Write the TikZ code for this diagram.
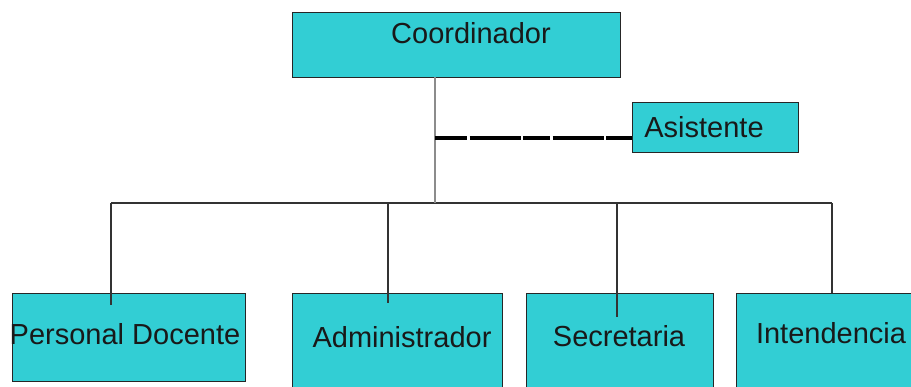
\documentclass[tikz,border=0pt]{standalone}
\usepackage{fontspec}
\setmainfont{Liberation Sans}
\begin{document}
\begin{tikzpicture}[x=1pt,y=-1pt,
  unitbox/.style={draw=black!85, line width=1.4pt, fill=boxfill, inner sep=0pt, anchor=north west},
  lbl/.style={inner sep=0pt, anchor=center, text=black!90, font=\fontsize{29}{32}\selectfont},
  link/.style={draw=black!80, line width=1.3pt},
  trunk/.style={draw=black!45, line width=2.6pt},
  assist/.style={draw=black, line width=3.2pt,
    dash pattern=on 32pt off 2.5pt on 51pt off 2.5pt on 27pt off 2.5pt on 51pt off 2.5pt on 30pt}]
\definecolor{boxfill}{RGB}{50,206,212}
\useasboundingbox (0,0) rectangle (911,387);

% boxes
\node[unitbox, minimum width=328pt, minimum height=65pt] (coord) at (292,12) {};
\node[unitbox, minimum width=166pt, minimum height=50pt] (asist) at (632,102) {};
\node[unitbox, minimum width=233pt, minimum height=88pt] (pd) at (12,293) {};
\node[unitbox, minimum width=210pt, minimum height=100pt] (adm) at (292,293) {};
\node[unitbox, minimum width=187pt, minimum height=100pt] (sec) at (526,293) {};
\node[unitbox, minimum width=180pt, minimum height=100pt] (int) at (736,293) {};

% labels
\node[lbl] (tcoord) at (471,33.5) {Coordinador};
\node[lbl] (tasist) at (704,127.5) {Asistente};
\node[lbl] (tpd) at (125,334) {Personal Docente};
\node[lbl] (tadm) at (402,337.5) {Administrador};
\node[lbl] (tsec) at (619,336.5) {Secretaria};
\node[lbl] (tint) at (831,333.5) {Intendencia};

% junction points
\coordinate (top) at (435,77);
\coordinate (bus) at (435,203);
\coordinate (tap) at (435,138);
\coordinate (busL) at (111,203);
\coordinate (busR) at (832,203);
\coordinate (bA) at (388,203);
\coordinate (bS) at (617,203);
\coordinate (endPD) at (111,305);
\coordinate (endAdm) at (388,303);
\coordinate (endSec) at (617,317);
\coordinate (endInt) at (832,293);

% connectors
\draw[link] (busL) -- (busR);
\draw[link] (busL) -- (endPD);
\draw[link] (bA) -- (endAdm);
\draw[link] (bS) -- (endSec);
\draw[link] (busR) -- (endInt);
\draw[trunk] (top) -- (bus);
\draw[assist] (tap) -- (asist.west |- tap);
\end{tikzpicture}
\end{document}
